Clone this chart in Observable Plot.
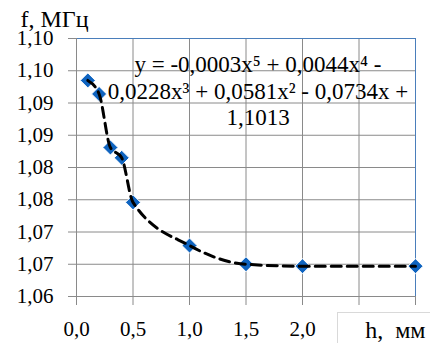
<!DOCTYPE html>
<html>
<head>
<meta charset="utf-8">
<script src="https://cdn.jsdelivr.net/npm/d3@7"></script>
<script src="https://cdn.jsdelivr.net/npm/@observablehq/plot@0.6"></script>
<style>
  html, body { margin: 0; padding: 0; background: white; }
  #wrap { position: relative; width: 430px; height: 343px; }
  #box { position: absolute; left: 337px; top: 312px; width: 93px; height: 31px;
         border-left: 1px solid #d9d9d9; border-top: 1px solid #d9d9d9; pointer-events: none; }
</style>
</head>
<body>
<div id="wrap"><div id="box"></div></div>
<script>
// Data
const hValues = [0.1, 0.2, 0.3, 0.4, 0.5, 1.0, 1.5, 2.0, 3.0];
const fValues = [1.0935, 1.0914, 1.0831, 1.0815, 1.0746, 1.0679, 1.0650, 1.0647, 1.0647];

const yTicks = [1.06, 1.065, 1.07, 1.075, 1.08, 1.085, 1.09, 1.095, 1.10];
const yTickLabels = ["1,06", "1,07", "1,07", "1,08", "1,08", "1,09", "1,09", "1,10", "1,10"];
const xTicks = [0, 0.5, 1.0, 1.5, 2.0, 2.5, 3.0];
const xTickLabels = ["0,0", "0,5", "1,0", "1,5", "2,0", "", ""];

const yTitle = "f, МГц";
const xTitle = "h,  мм";
const equation = "y = -0,0003x⁵ + 0,0044x⁴ -\n0,0228x³ + 0,0581x² - 0,0734x +\n1,1013";

const data = hValues.map((h, i) => ({h, f: fValues[i]}));

const font = "Liberation Serif";

const chart = Plot.plot({
  width: 430,
  height: 343,
  marginLeft: 76,
  marginRight: 15,
  marginTop: 38,
  marginBottom: 47,
  style: "font-family: 'Liberation Serif'; font-size: 22px; background: white; color: black;",
  x: {domain: [0, 3]},
  y: {domain: [1.06, 1.10]},
  marks: [
    Plot.gridX(xTicks, {stroke: "#8a8a8a", strokeOpacity: 1}),
    Plot.gridY(yTicks, {stroke: "#8a8a8a", strokeOpacity: 1}),
    Plot.frame({stroke: "#4a7ebb"}),
    Plot.ruleX([0], {stroke: "#8a8a8a"}),
    Plot.ruleY([1.06], {stroke: "#8a8a8a"}),
    Plot.axisY(yTicks, {tickSize: 8, tickPadding: 15, stroke: "#8a8a8a", fontSize: 21, fontFamily: font, label: null,
      tickFormat: d => yTickLabels[yTicks.indexOf(d)]}),
    Plot.axisX(xTicks, {tickSize: 9, tickPadding: 16, stroke: "#8a8a8a", fontSize: 21, fontFamily: font, label: null,
      tickFormat: d => xTickLabels[xTicks.indexOf(d)]}),
    Plot.dot(data, {x: "h", y: "f", symbol: "diamond2", r: 6.8, fill: "#0f64c0", stroke: "white", strokeWidth: 1}),
    Plot.line(data, {x: "h", y: "f", curve: "monotone-x", stroke: "black", strokeWidth: 3, strokeDasharray: "10,6"}),
    Plot.text([equation], {frameAnchor: "top", dx: 12, dy: 14, lineAnchor: "top", lineHeight: 1.17,
      fontSize: 23, fontFamily: font, fill: "black", text: d => d}),
    Plot.text([yTitle], {frameAnchor: "top-left", dx: -56, dy: -12, lineAnchor: "bottom", textAnchor: "start",
      fontSize: 24, fontFamily: font, fill: "black", text: d => d}),
    Plot.text([xTitle], {frameAnchor: "bottom-right", dx: 10, dy: 41, lineAnchor: "bottom", textAnchor: "end",
      fontSize: 24, fontFamily: font, fill: "black", text: d => d})
  ]
});
d3.select(chart).selectAll("text, tspan, g").attr("font-family", font).style("font-family", font);
document.getElementById("wrap").prepend(chart);
</script>
</body>
</html>
